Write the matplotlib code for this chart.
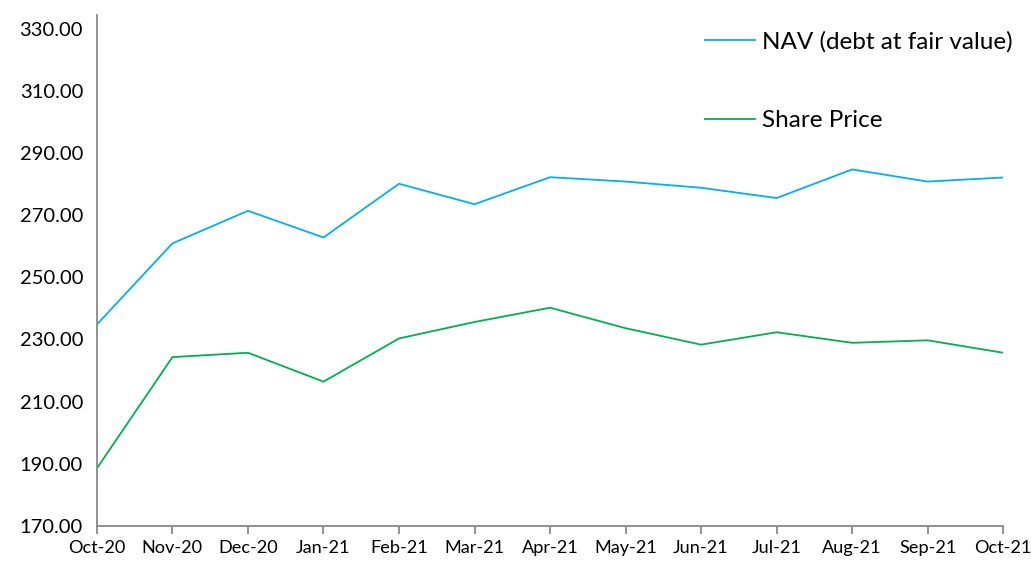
import numpy as np
import matplotlib.pyplot as plt

plt.rcParams['font.family'] = ['Lato', 'DejaVu Sans']

# -------------------------------
# Data
# -------------------------------
months = ["Oct-20", "Nov-20", "Dec-20", "Jan-21", "Feb-21", "Mar-21", "Apr-21",
          "May-21", "Jun-21", "Jul-21", "Aug-21", "Sep-21", "Oct-21"]
nav = [234.8, 260.9, 271.4, 262.8, 280.1, 273.5, 282.2,
       280.8, 278.8, 275.5, 284.7, 280.8, 282.1]
share_price = [188.5, 224.3, 225.7, 216.4, 230.3, 235.6, 240.2,
               233.6, 228.3, 232.3, 228.9, 229.7, 225.7]

x = np.arange(len(months))

fig = plt.figure(figsize=(10.31, 5.66), dpi=100)
ax = fig.add_axes([0.094, 0.071, 0.879, 0.903])

ax.plot(x, nav, color="#00B0F0", linewidth=1.3, label="NAV (debt at fair value)")
ax.plot(x, share_price, color="#00B050", linewidth=1.3, label="Share Price")

ax.set_xlim(0, len(months) - 1)
ax.set_ylim(170, 334.5)
ax.set_yticks(np.arange(170, 331, 20))
ax.set_yticklabels([f"{v:.2f}" for v in np.arange(170, 331, 20)])
ax.set_xticks(x)
ax.set_xticklabels(months)

for side in ["top", "right"]:
    ax.spines[side].set_visible(False)
for side in ["left", "bottom"]:
    ax.spines[side].set_color("#898989")
    ax.spines[side].set_linewidth(1.3)

ax.tick_params(axis="y", length=0, labelsize=14.5, pad=10)
ax.tick_params(axis="x", length=6, width=1.3, color="#898989", labelsize=13.1, pad=4)

ax.legend(loc="upper right", bbox_to_anchor=(1.035, 1.01), frameon=False, fontsize=17.5,
          handlelength=2.05, handletextpad=0.3, labelspacing=2.35)

fig.savefig("out.png", dpi=100)
